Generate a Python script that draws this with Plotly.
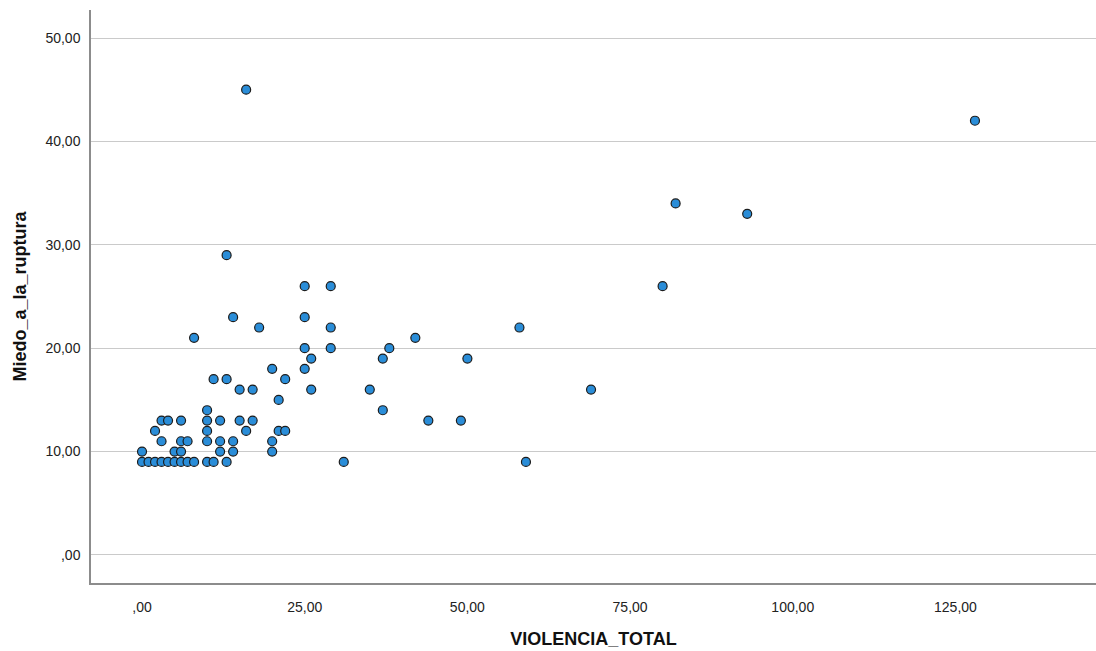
import plotly.graph_objects as go

# Data (VIOLENCIA_TOTAL, Miedo_a_la_ruptura)
violencia_total = [
    0, 1, 2, 3, 4, 5, 6, 7, 8, 10, 11, 13, 31, 59,      # y = 9
    0, 5, 6, 12, 14, 20,                                # y = 10
    3, 6, 7, 10, 12, 14, 20,                            # y = 11
    2, 10, 16, 21, 22,                                  # y = 12
    3, 4, 6, 10, 12, 15, 17, 44, 49,                    # y = 13
    10, 37,                                             # y = 14
    21,                                                 # y = 15
    15, 17, 26, 35, 69,                                 # y = 16
    11, 13, 22,                                         # y = 17
    20, 25,                                             # y = 18
    26, 37, 50,                                         # y = 19
    25, 29, 38,                                         # y = 20
    8, 42,                                              # y = 21
    18, 29, 58,                                         # y = 22
    14, 25,                                             # y = 23
    25, 29, 80,                                         # y = 26
    13,                                                 # y = 29
    93,                                                 # y = 33
    82,                                                 # y = 34
    128,                                                # y = 42
    16,                                                 # y = 45
]
miedo_a_la_ruptura = (
    [9] * 14 + [10] * 6 + [11] * 7 + [12] * 5 + [13] * 9 + [14] * 2 + [15] * 1
    + [16] * 5 + [17] * 3 + [18] * 2 + [19] * 3 + [20] * 3 + [21] * 2 + [22] * 3
    + [23] * 2 + [26] * 3 + [29] + [33] + [34] + [42] + [45]
)

x_tick_vals = [0, 25, 50, 75, 100, 125]
x_tick_text = [",00", "25,00", "50,00", "75,00", "100,00", "125,00"]
y_tick_vals = [0, 10, 20, 30, 40, 50]
y_tick_text = [",00", "10,00", "20,00", "30,00", "40,00", "50,00"]

fig = go.Figure(
    go.Scatter(
        x=violencia_total,
        y=miedo_a_la_ruptura,
        mode="markers",
        marker=dict(size=9, color="#2a8dd8", line=dict(color="#1c1c1c", width=1.2)),
        hoverinfo="x+y",
    )
)

fig.update_layout(
    width=1096,
    height=651,
    margin=dict(l=91, r=0, t=10, b=68),
    paper_bgcolor="white",
    plot_bgcolor="white",
    showlegend=False,
    font=dict(family="Liberation Sans, Arial, sans-serif", color="#222222", size=14),
)

fig.update_xaxes(
    range=[-7.84, 146.6],
    tickmode="array",
    tickvals=x_tick_vals,
    ticktext=x_tick_text,
    showgrid=False,
    zeroline=False,
    showline=True,
    linecolor="#8c8c8c",
    linewidth=1.5,
    ticks="",
    ticklabelstandoff=10,
    tickfont=dict(size=14, color="#222222"),
    title=dict(
        text="<b>VIOLENCIA_TOTAL</b>",
        font=dict(size=18, color="#111111", family="Liberation Sans, Arial, sans-serif"),
        standoff=19,
    ),
    automargin=False,
)

fig.update_yaxes(
    range=[-2.71, 52.71],
    tickmode="array",
    tickvals=y_tick_vals,
    ticktext=y_tick_text,
    showgrid=True,
    gridcolor="#cacaca",
    gridwidth=1,
    zeroline=False,
    showline=True,
    linecolor="#8c8c8c",
    linewidth=1.5,
    ticks="",
    ticklabelstandoff=6,
    tickfont=dict(size=14, color="#222222"),
    title=dict(
        text="<b>Miedo_a_la_ruptura</b>",
        font=dict(size=18, color="#111111", family="Liberation Sans, Arial, sans-serif"),
        standoff=14,
    ),
    automargin=False,
)

fig.write_html(
    "out.html",
    config={"displayModeBar": False},
    post_script="document.body.style.margin='0';document.body.style.padding='0';",
)
